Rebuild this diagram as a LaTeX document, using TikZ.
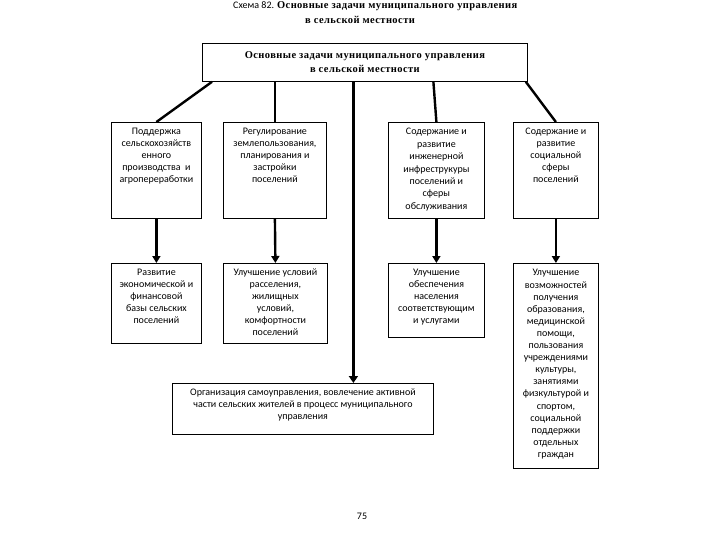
\documentclass[tikz,border=0pt]{standalone}
\usepackage{fontspec}
\setmainfont{Carlito}
\newfontfamily\serifb[LetterSpace=4]{Liberation Serif}
\usetikzlibrary{arrows.meta,calc}
\newcommand{\bxt}[4]{\parbox[t][#2][t]{#1}{\centering\fontsize{10}{#4}\selectfont\rule{0pt}{12.5pt}#3\par}}
\tikzset{
  box/.style={draw, line width=0.8pt, inner sep=0pt, anchor=north west},
  conn/.style={line width=2.4pt},
  arr/.style={line width=2.4pt, -{Triangle[width=8pt,length=7pt]}},
  bigarr/.style={line width=3.2pt, -{Triangle[width=9pt,length=7pt]}},
  ttl/.style={font=\serifb\bfseries\fontsize{10.5}{14}\selectfont, inner sep=0pt}
}
\begin{document}
\begin{tikzpicture}[x=1pt,y=-1pt]
\useasboundingbox[fill=white] (0,0) rectangle (720,540);
% title
\node[anchor=base west, inner sep=0pt] (t1) at (233,9) {\fontsize{10}{12}\selectfont Схема 82. {\serifb\bfseries\fontsize{10.5}{12}\selectfont Основные задачи муниципального управления}};
\node[ttl, anchor=base] (t2) at (360,24) {в сельской местности};
% top box
\node[box, minimum width=325pt, minimum height=38pt, align=center, ttl] (T) at (202,43) {Основные задачи муниципального управления\\в сельской местности};
% row 1
\node[box] (B1) at (111,122) {\bxt{90pt}{96pt}{Поддержка\\сельскохозяйств\\енного\\производства \ и\\агропереработки}{12pt}};
\node[box] (B2) at (223,122) {\bxt{103pt}{96pt}{Регулирование\\землепользования,\\планирования и\\застройки\\поселений}{12pt}};
\node[box] (B3) at (388,122) {\bxt{96pt}{96pt}{Содержание и\\развитие\\инженерной\\инфреструкуры\\поселений и\\сферы\\обслуживания}{12.4pt}};
\node[box] (B4) at (513,122) {\bxt{85pt}{96pt}{Содержание и\\развитие\\социальной\\сферы\\поселений}{12pt}};
% row 2
\node[box] (C1) at (111,263) {\bxt{90pt}{80pt}{Развитие\\экономической и\\финансовой\\базы сельских\\поселений}{12pt}};
\node[box] (C2) at (223,263) {\bxt{104pt}{80pt}{Улучшение условий\\расселения,\\жилищных\\условий,\\комфортности\\поселений}{12pt}};
\node[box] (C3) at (388,263) {\bxt{96pt}{74pt}{Улучшение\\обеспечения\\населения\\соответствующим\\и услугами}{12pt}};
\node[box] (C4) at (513,263) {\bxt{85pt}{205pt}{Улучшение\\возможностей\\получения\\образования,\\медицинской\\помощи,\\пользования\\учреждениями\\культуры,\\занятиями\\физкультурой и\\спортом,\\социальной\\поддержки\\отдельных\\граждан}{12.1pt}};
% bottom box
\node[box] (D) at (172,383) {\bxt{261pt}{51pt}{Организация самоуправления, вовлечение активной\\части сельских жителей в процесс муниципального\\управления}{12pt}};
% page number
\node[anchor=base, inner sep=0pt] (pg) at (362,519) {\fontsize{10}{12}\selectfont 75};
% connectors
\draw[conn] ([xshift=10pt]T.south west) -- (B1.north);
\draw[conn] (B2.north |- T.south) -- (B2.north);
\draw[conn] ([xshift=-3pt]B3.north |- T.south) -- (B3.north);
\draw[conn] ([xshift=-2pt]T.south east) -- (B4.north);
\draw[bigarr] ([xshift=-11.5pt]T.south) -- ([xshift=-11.5pt]T.south |- D.north);
\draw[arr] (B1.south) -- (C1.north);
\draw[arr] (B2.south) -- (C2.north);
\draw[arr] (B3.south) -- (C3.north);
\draw[arr] (B4.south) -- (C4.north);
\end{tikzpicture}
\end{document}
